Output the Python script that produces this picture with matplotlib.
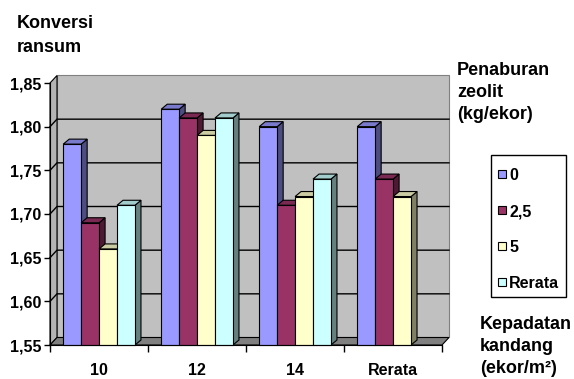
import numpy as np
import matplotlib.pyplot as plt
from matplotlib import font_manager
from matplotlib.colors import to_rgb
from matplotlib.patches import Polygon, Rectangle
import matplotlib.transforms as mtransforms

categories = ["10", "12", "14", "Rerata"]
series = ["0", "2,5", "5", "Rerata"]
val_0 = [1.78, 1.82, 1.80, 1.80]
val_25 = [1.69, 1.81, 1.71, 1.74]
val_5 = [1.66, 1.79, 1.72, 1.72]
val_rerata = [1.71, 1.81, 1.74, np.nan]
colors = ["#9999FF", "#993366", "#FFFFCC", "#CCFFFF"]
yticks = [1.55, 1.60, 1.65, 1.70, 1.75, 1.80, 1.85]

W, H = 574, 379
# narrow bold face for the numbers if it is available
names = {f.name for f in font_manager.fontManager.ttflist}
if "Liberation Sans Narrow" in names:
    num_font, num_size = "Liberation Sans Narrow", 13.5
else:
    num_font, num_size = "Liberation Sans", 11.5
title_font = "Liberation Sans"

fig = plt.figure(figsize=(W / 100, H / 100), dpi=100)
ax = fig.add_axes([50 / W, 34 / H, 392 / W, 262 / H])
ax.set_xlim(0, 4)
ax.set_ylim(1.55, 1.85)
ax.patch.set_visible(False)
y0, y1 = 1.55, 1.85

# depth offsets (data units) for the walls and the bars
px_x = 4 / 392
px_y = 0.30 / 262
wdx, wdy = 7 * px_x, 7.5 * px_y
bdx, bdy = 6 * px_x, 5 * px_y


def poly(pts, fc, ec="black", lw=0.8, z=1):
    ax.add_patch(Polygon(pts, closed=True, facecolor=fc, edgecolor=ec,
                         linewidth=lw, zorder=z, clip_on=False))


def shade(c, f):
    return tuple(v * f for v in to_rgb(c))


# back wall, side wall and floor
poly([(wdx, y0 + wdy), (4 + wdx, y0 + wdy), (4 + wdx, y1 + wdy), (wdx, y1 + wdy)],
     "#C0C0C0", ec="#808080", z=1)
poly([(0, y0), (wdx, y0 + wdy), (wdx, y1 + wdy), (0, y1)], "#B4B4B4", ec="black", z=1.1)
poly([(0, y0), (4, y0), (4 + wdx, y0 + wdy), (wdx, y0 + wdy)], "#808080", ec="black", z=1.2)

for v in yticks[1:-1]:
    ax.plot([0, wdx, 4 + wdx], [v, v + wdy, v + wdy], color="black", lw=1.0,
            zorder=1.5, clip_on=False)

# 3d columns
data = [val_0, val_25, val_5, val_rerata]
bw = 0.183
off = 0.135
z = 3
for i in range(len(categories)):
    for j, vals in enumerate(data):
        h = vals[i]
        if np.isnan(h):
            continue
        x = i + off + j * bw
        c = colors[j]
        poly([(x + bw, y0), (x + bw + bdx, y0 + bdy), (x + bw + bdx, h + bdy), (x + bw, h)],
             shade(c, 0.5), z=z)
        poly([(x, h), (x + bw, h), (x + bw + bdx, h + bdy), (x + bdx, h + bdy)],
             shade(c, 0.8), z=z + 0.1)
        ax.add_patch(Rectangle((x, y0), bw, h - y0, facecolor=c, edgecolor="black",
                               linewidth=0.8, zorder=z + 0.2, clip_on=False))
        z += 1

# axes
for s in ["top", "right"]:
    ax.spines[s].set_visible(False)
ax.spines["left"].set_zorder(50)
ax.spines["bottom"].set_zorder(50)
ax.set_yticks(yticks)
ax.set_yticklabels([f"{v:.2f}".replace(".", ",") for v in yticks],
                   fontfamily=num_font, fontsize=num_size, fontweight="bold")
ax.tick_params(axis="y", length=4, width=1, pad=2)
ax.set_xticks(range(5))
ax.set_xticklabels([])
ax.tick_params(axis="x", length=5, width=1)

trans = mtransforms.blended_transform_factory(ax.transData, fig.transFigure)
for i, lab in enumerate(categories):
    ax.text(i + 0.5, 1 - 375 / H, lab, transform=trans, ha="center", va="baseline",
            fontfamily=num_font, fontsize=num_size, fontweight="bold")

# axis titles
def title_lines(x, ys, lines):
    for yy, t in zip(ys, lines):
        fig.text(x / W, 1 - yy / H, t, ha="left", va="baseline",
                 fontfamily=title_font, fontsize=13, fontweight="bold")


title_lines(17, [28.5, 51.5], ["Konversi", "ransum"])
title_lines(457, [75, 97, 119], ["Penaburan", "zeolit", "(kg/ekor)"])
title_lines(480, [329, 351, 373], ["Kepadatan", "kandang", "(ekor/m²)"])

# legend
fig.add_artist(Rectangle((491 / W, 1 - 297 / H), 75 / W, 142 / H, transform=fig.transFigure,
                         facecolor="white", edgecolor="black", linewidth=1))
for k, lab in enumerate(series):
    cy = 174 + 36 * k
    fig.add_artist(Rectangle((498 / W, 1 - (cy + 4) / H), 8 / W, 8 / H,
                             transform=fig.transFigure, facecolor=colors[k],
                             edgecolor="black", linewidth=0.8))
    fig.text(509 / W, 1 - (cy + 6.5) / H, lab, ha="left", va="baseline",
             fontfamily=num_font, fontsize=num_size, fontweight="bold")

fig.savefig("out.png", dpi=100)
